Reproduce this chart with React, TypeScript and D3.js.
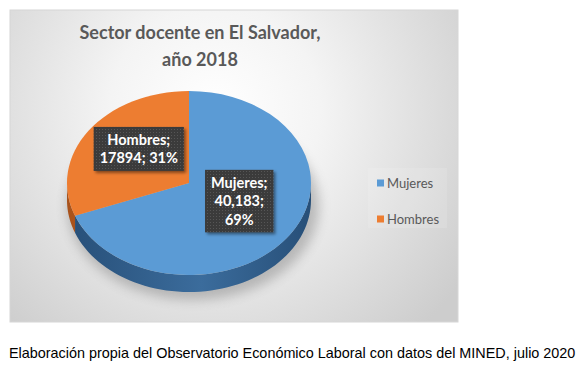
import { useEffect, useRef } from 'react';
import * as d3 from 'd3';

const categories = ['Mujeres', 'Hombres'];
const values = [40183, 17894];
const valueLabels = ['40,183', '17894'];
const colors = ['#5b9bd5', '#ed7d31'];
const sideColors = [['#274f78', '#3b6c9c'], ['#a8521b', '#c7682a']];
const titleLines = ['Sector docente en El Salvador,', 'año 2018'];
const caption = 'Elaboración propia del Observatorio Económico Laboral con datos del MINED, julio 2020';

export default function App() {
    const ref = useRef<SVGSVGElement>(null);

    useEffect(() => {
        document.body.style.margin = '0';
        const svg = d3.select(ref.current);
        svg.selectAll('*').remove();

        const box = { x: 10, y: 10, w: 448, h: 312 };
        const cx = 189, cy = 183, rx = 122, ry = 92, depth = 17;
        const labelWrap = [70, 84];

        const defs = svg.append('defs');
        const bg = defs.append('radialGradient').attr('id', 'bg')
            .attr('gradientUnits', 'userSpaceOnUse')
            .attr('cx', 215).attr('cy', 110).attr('r', 300);
        bg.append('stop').attr('offset', '0').attr('stop-color', '#ffffff');
        bg.append('stop').attr('offset', '0.35').attr('stop-color', '#f4f4f4');
        bg.append('stop').attr('offset', '1').attr('stop-color', '#cdcdcd');

        sideColors.forEach((c, i) => {
            const g = defs.append('linearGradient').attr('id', `side${i}`)
                .attr('gradientUnits', 'userSpaceOnUse')
                .attr('x1', cx - rx).attr('x2', cx + rx).attr('y1', 0).attr('y2', 0);
            g.append('stop').attr('offset', '0').attr('stop-color', c[0]);
            g.append('stop').attr('offset', '0.55').attr('stop-color', c[1]);
            g.append('stop').attr('offset', '1').attr('stop-color', c[0]);
        });

        defs.append('filter').attr('id', 'blur').attr('x', '-30%').attr('y', '-30%')
            .attr('width', '160%').attr('height', '160%')
            .append('feGaussianBlur').attr('stdDeviation', 6);

        const sh = defs.append('filter').attr('id', 'shadow').attr('x', '-20%').attr('y', '-20%')
            .attr('width', '150%').attr('height', '150%');
        sh.append('feDropShadow').attr('dx', 2).attr('dy', 2).attr('stdDeviation', 1.5)
            .attr('flood-color', '#000').attr('flood-opacity', 0.45);

        const pat = defs.append('pattern').attr('id', 'dots')
            .attr('patternUnits', 'userSpaceOnUse').attr('width', 3).attr('height', 3);
        pat.append('rect').attr('width', 3).attr('height', 3).attr('fill', '#3a3a3a');
        pat.append('rect').attr('width', 1).attr('height', 1).attr('fill', '#575757');

        // chart area
        svg.append('rect')
            .attr('x', box.x).attr('y', box.y).attr('width', box.w).attr('height', box.h)
            .attr('fill', 'url(#bg)').attr('stroke', '#d6d6d6');

        // title
        svg.append('g').selectAll('text').data(titleLines).join('text')
            .attr('x', 200).attr('y', (_, i) => 39 + i * 27)
            .attr('text-anchor', 'middle')
            .attr('font-family', 'Lato, sans-serif').attr('font-weight', 'bold')
            .attr('font-size', 18).attr('fill', '#595959')
            .text(d => d);

        const pie = d3.pie<number>().sort(null).value(d => d);
        const arcs = pie(values);
        const total = d3.sum(values);
        const pct = d3.format('.0%');

        const pt = (a: number, dy = 0): [number, number] =>
            [cx + rx * Math.sin(a), cy - ry * Math.cos(a) + dy];

        // shadow under the pie
        svg.append('ellipse')
            .attr('cx', cx + 4).attr('cy', cy + depth + 6).attr('rx', rx + 4).attr('ry', ry + 2)
            .attr('fill', '#7a7a7a').attr('opacity', 0.45).attr('filter', 'url(#blur)');

        // sides (front half only)
        const line = d3.line();
        const front0 = Math.PI / 2, front1 = Math.PI * 1.5;
        svg.append('g').selectAll('path').data(arcs).join('path')
            .attr('d', d => {
                const s0 = Math.max(d.startAngle, front0);
                const s1 = Math.min(d.endAngle, front1);
                if (s1 <= s0) return '';
                const ang = d3.range(0, 61).map(k => s0 + (s1 - s0) * k / 60);
                const pts = ang.map(a => pt(a)).concat(ang.slice().reverse().map(a => pt(a, depth)));
                return line(pts) + 'Z';
            })
            .attr('fill', (_, i) => `url(#side${i})`);

        // top faces
        const arc = d3.arc<d3.PieArcDatum<number>>().innerRadius(0).outerRadius(rx);
        svg.append('g')
            .attr('transform', `translate(${cx},${cy}) scale(1,${ry / rx})`)
            .selectAll('path').data(arcs).join('path')
            .attr('d', arc)
            .attr('fill', (_, i) => colors[i]);

        // data labels
        const labels = svg.append('g')
            .attr('font-family', 'Lato, sans-serif').attr('font-weight', 'bold')
            .attr('font-size', 14.5);
        arcs.forEach((d, i) => {
            const c = arc.centroid(d);
            const lx = cx + c[0];
            const ly = cy + c[1] * ry / rx - 8;
            const words = [`${categories[i]};`, `${valueLabels[i]};`, pct(values[i] / total)];
            const g = labels.append('g');
            const probe = g.append('text').attr('fill', 'none');
            const lines: string[] = [];
            let cur = '';
            words.forEach(w => {
                const trial = cur ? `${cur} ${w}` : w;
                probe.text(trial);
                if (cur && (probe.node() as SVGTextElement).getComputedTextLength() > labelWrap[i]) {
                    lines.push(cur);
                    cur = w;
                } else cur = trial;
            });
            lines.push(cur);
            const widths = lines.map(l => {
                probe.text(l);
                return (probe.node() as SVGTextElement).getComputedTextLength();
            });
            probe.remove();
            const lh = 18.5;
            const bw = (d3.max(widths) || 0) + 12;
            const bh = lines.length * lh + 7;
            g.append('rect')
                .attr('x', lx - bw / 2).attr('y', ly - bh / 2)
                .attr('width', bw).attr('height', bh)
                .attr('fill', 'url(#dots)').attr('filter', 'url(#shadow)');
            g.selectAll('text.l').data(lines).join('text').attr('class', 'l')
                .attr('x', lx)
                .attr('y', (_, k) => ly - (lines.length - 1) * lh / 2 + k * lh + 5)
                .attr('text-anchor', 'middle').attr('fill', '#ffffff')
                .text(t => t);
        });

        // legend
        svg.append('rect')
            .attr('x', 368).attr('y', 168).attr('width', 79).attr('height', 60)
            .attr('fill', '#ffffff').attr('opacity', 0.12);
        const leg = svg.append('g').selectAll('g').data(categories).join('g')
            .attr('transform', (_, i) => `translate(377,${183 + i * 36})`);
        leg.append('rect').attr('x', 0).attr('y', -3.5).attr('width', 7).attr('height', 7)
            .attr('fill', (_, i) => colors[i]);
        leg.append('text').attr('x', 10).attr('y', 4.5)
            .attr('font-family', 'Lato, sans-serif').attr('font-size', 13)
            .attr('fill', '#595959').text(d => d);

        // caption
        svg.append('text')
            .attr('x', 9).attr('y', 358)
            .attr('font-family', '"Liberation Sans", Arial, sans-serif').attr('font-size', 14.4)
            .attr('fill', '#000').text(caption);
    }, []);

    return <svg ref={ref} width={586} height={367} style={{ display: 'block' }} />;
}
